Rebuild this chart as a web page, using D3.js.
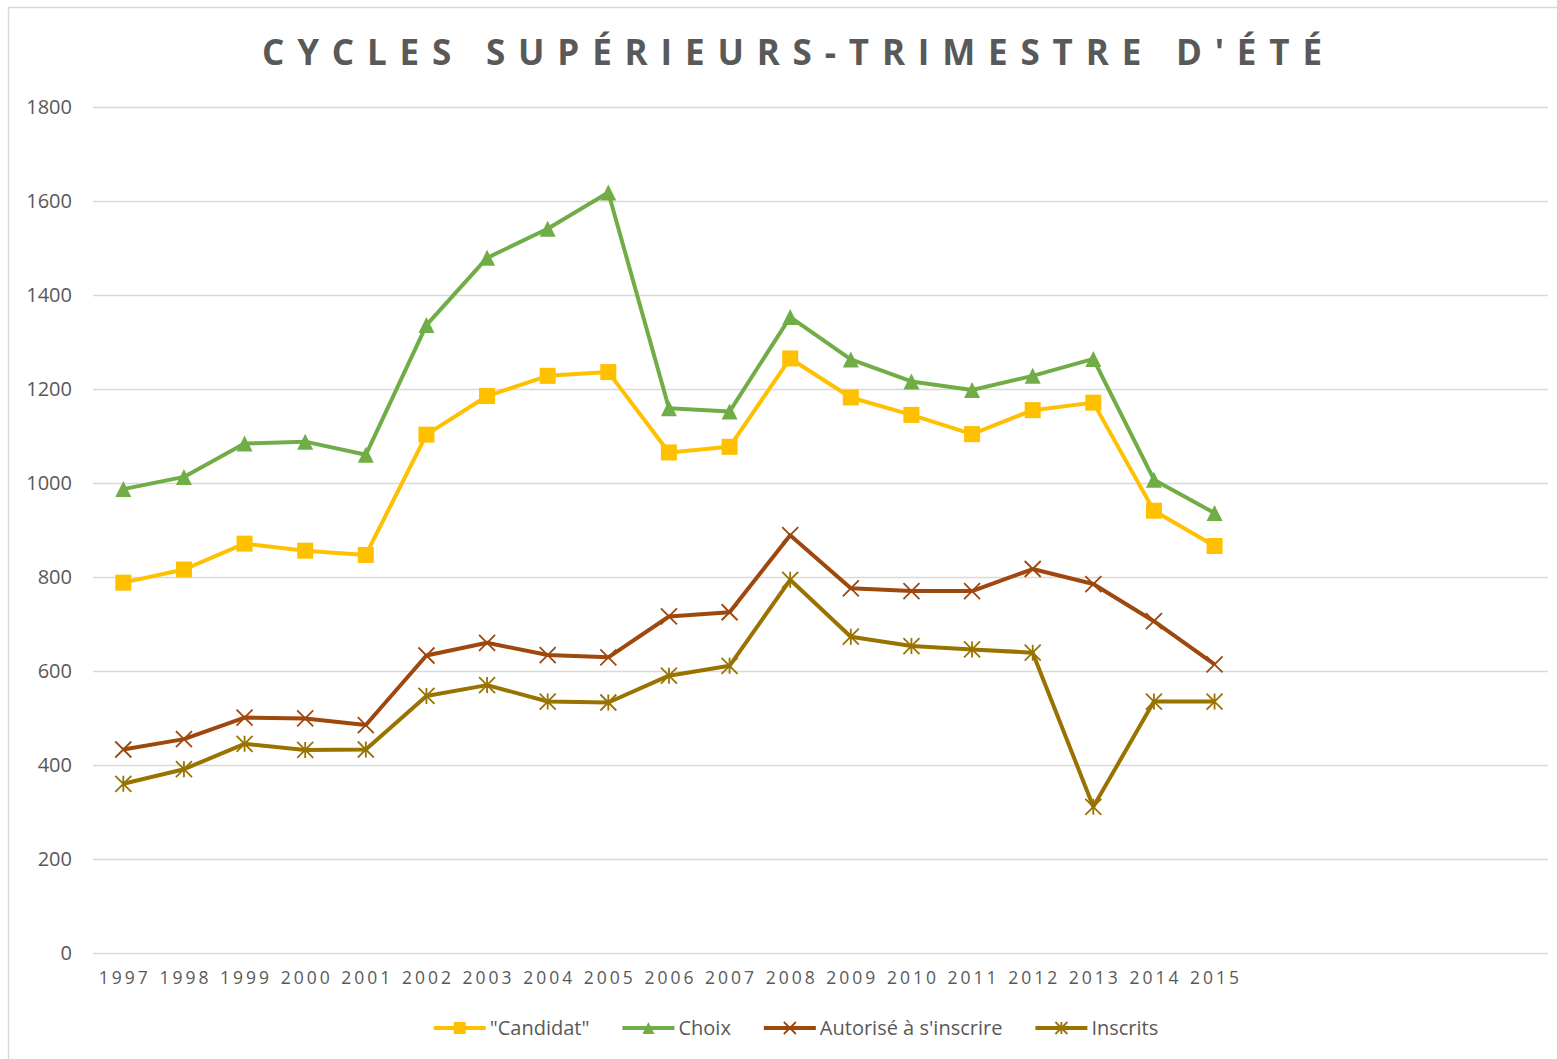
<!DOCTYPE html>
<html>
<head>
<meta charset="utf-8">
<script src="https://cdn.jsdelivr.net/npm/d3@7"></script>
<style>
  body { margin: 0; background: #fff; }
  text { font-family: "Open Sans", sans-serif; }
</style>
</head>
<body>
<svg id="chart" width="1557" height="1059"></svg>
<script>
const years = ["1997","1998","1999","2000","2001","2002","2003","2004","2005","2006",
  "2007","2008","2009","2010","2011","2012","2013","2014","2015"];
const emptySlots = 5; // Excel left room for 2016-2020 on the axis
const yTicks = [0, 200, 400, 600, 800, 1000, 1200, 1400, 1600, 1800];

const candidat = [788, 816, 871, 856, 847, 1103, 1185, 1228, 1236, 1065, 1077, 1265, 1182, 1145, 1104, 1155, 1171, 941, 866];
const choix = [987, 1013, 1084, 1088, 1060, 1336, 1479, 1541, 1618, 1159, 1152, 1353, 1263, 1216, 1198, 1228, 1264, 1007, 936];
const autorise = [433, 455, 501, 499, 485, 633, 660, 634, 629, 716, 725, 889, 776, 770, 770, 817, 785, 706, 614];
const inscrits = [360, 391, 445, 432, 433, 547, 570, 535, 533, 590, 611, 794, 673, 653, 646, 639, 311, 535, 535];

const seriesNames = ["\"Candidat\"", "Choix", "Autorisé à s'inscrire", "Inscrits"];
const seriesColors = ["#FFC000", "#70AD47", "#9E480E", "#997300"];
const seriesMarkers = ["square", "triangle", "x", "star"];
const seriesValues = [candidat, choix, autorise, inscrits];

const svg = d3.select("#chart");
const margin = {left: 93, right: 1548, top: 107, bottom: 953};

svg.append("rect")
  .attr("x", 8.5).attr("y", 7.5)
  .attr("width", 1700).attr("height", 1200)
  .attr("fill", "#fff")
  .attr("stroke", "#d9d9d9")
  .attr("stroke-width", 1.5);

svg.append("text")
  .attr("x", 262)
  .attr("y", 65)
  .attr("textLength", 1060)
  .attr("lengthAdjust", "spacing")
  .style("font-size", "35px")
  .style("font-weight", 700)
  .style("fill", "#595959")
  .text("CYCLES SUPÉRIEURS-TRIMESTRE D'ÉTÉ");

const x = d3.scaleBand()
  .domain(d3.range(years.length + emptySlots))
  .range([margin.left, margin.right]);
const cx = i => x(i) + x.bandwidth() / 2;

const y = d3.scaleLinear()
  .domain([0, 1800])
  .range([margin.bottom, margin.top]);

// y axis + gridlines
const yAxis = svg.append("g")
  .attr("transform", `translate(${margin.left},0)`)
  .call(d3.axisLeft(y)
    .tickValues(yTicks)
    .tickFormat(d3.format("d"))
    .tickSize(-(margin.right - margin.left))
    .tickPadding(21));
yAxis.select(".domain").remove();
yAxis.selectAll(".tick line")
  .attr("stroke", "#d9d9d9")
  .attr("stroke-width", 1.5);
yAxis.selectAll(".tick text")
  .attr("fill", "#595959")
  .style("font-size", "20px")
  .style("font-family", "'Open Sans', sans-serif");

// x axis labels
const xAxis = svg.append("g")
  .attr("transform", `translate(1.5,${margin.bottom})`)
  .call(d3.axisBottom(x)
    .tickFormat(i => years[i] || "")
    .tickSize(0)
    .tickPadding(19));
xAxis.select(".domain").remove();
xAxis.selectAll(".tick text")
  .attr("fill", "#595959")
  .style("font-size", "17.5px")
  .style("letter-spacing", "3px")
  .style("font-family", "'Open Sans', sans-serif");

const drawMarker = (g, type, color, size) => {
  const h = size / 2;
  if (type === "square") {
    g.append("rect")
      .attr("x", -h).attr("y", -h)
      .attr("width", size).attr("height", size)
      .attr("fill", color);
  } else if (type === "triangle") {
    g.append("path")
      .attr("d", `M0,${-h}L${h},${h}L${-h},${h}Z`)
      .attr("fill", color);
  } else if (type === "x") {
    g.append("path")
      .attr("d", `M${-h},${-h}L${h},${h}M${-h},${h}L${h},${-h}`)
      .attr("stroke", color)
      .attr("stroke-width", 1.8);
  } else {
    g.append("path")
      .attr("d", `M${-h},${-h}L${h},${h}M${-h},${h}L${h},${-h}M0,${-h}L0,${h}`)
      .attr("stroke", color)
      .attr("stroke-width", 1.8);
  }
};

const line = d3.line()
  .x((d, i) => cx(i))
  .y(d => y(d));

seriesValues.forEach((vals, s) => {
  const g = svg.append("g").attr("class", "series");
  g.append("path")
    .datum(vals)
    .attr("d", line)
    .attr("fill", "none")
    .attr("stroke", seriesColors[s])
    .attr("stroke-width", 4)
    .attr("stroke-linejoin", "round");
  g.selectAll(".mk").data(vals).enter().append("g")
    .attr("class", "mk")
    .attr("transform", (d, i) => `translate(${cx(i)},${y(d)})`)
    .each(function() {
      drawMarker(d3.select(this), seriesMarkers[s], seriesColors[s], 16);
    });
});

// legend
const legend = svg.append("g");
const items = legend.selectAll(".item").data(seriesNames).enter().append("g")
  .attr("class", "item");
items.append("line")
  .attr("x1", 0).attr("x2", 52)
  .attr("y1", 0).attr("y2", 0)
  .attr("stroke", (d, i) => seriesColors[i])
  .attr("stroke-width", 4);
items.each(function(d, i) {
  const m = d3.select(this).append("g").attr("transform", "translate(26,0)");
  drawMarker(m, seriesMarkers[i], seriesColors[i], 12);
});
items.append("text")
  .attr("x", 56)
  .attr("y", 7)
  .style("font-size", "20px")
  .style("fill", "#595959")
  .text(d => d);

let offset = 0;
const widths = [];
items.each(function() {
  widths.push(56 + d3.select(this).select("text").node().getComputedTextLength());
});
const totalW = d3.sum(widths) + 33 * (widths.length - 1);
const startX = 796 - totalW / 2;
items.attr("transform", (d, i) => {
  const t = `translate(${startX + offset},1028)`;
  offset += widths[i] + 33;
  return t;
});
</script>
</body>
</html>
